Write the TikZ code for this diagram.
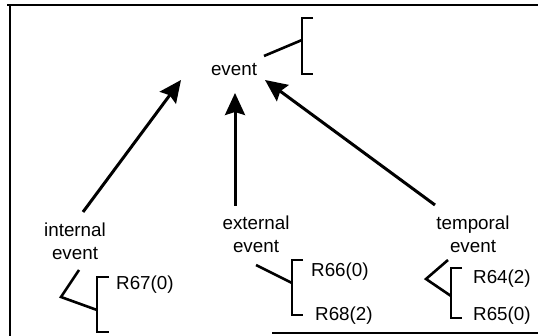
\documentclass[tikz,border=0pt]{standalone}
\usepackage{fontspec}
\setmainfont{Liberation Sans}
\usetikzlibrary{arrows.meta}
\tikzset{
  lbl/.style={inner sep=0pt, font=\fontsize{18.8}{23}\selectfont, align=center},
  rlbl/.style={inner sep=0pt, font=\fontsize{18.8}{23}\selectfont, anchor=base west},
  isa/.style={line width=3pt, -{Stealth[length=22pt, width=20pt, inset=3pt]}},
  conn/.style={line width=2.6pt},
  brk/.style={line width=2pt},
  frame/.style={line width=2pt}
}
\begin{document}
\begin{tikzpicture}[x=1pt,y=-1pt]
\useasboundingbox (0,0) rectangle (538,336);
% frame
\draw[frame] (7,5) -- (538,5);
\draw[frame] (9.5,5) -- (9.5,336);
\draw[frame] (272,333) -- (538,333);

% nodes
\node[lbl, anchor=base] (ev) at (234,76) {event};
\node[lbl, anchor=base] (ie) at (75,260) {internal\\event};
\node[lbl, anchor=base] (ee) at (256,253) {external\\event};
\node[lbl, anchor=base] (te) at (473,253) {temporal\\event};
\node[rlbl] (r67) at (116,290) {R67(0)};
\node[rlbl] (r66) at (311,277) {R66(0)};
\node[rlbl] (r68) at (315,321) {R68(2)};
\node[rlbl] (r64) at (473,284) {R64(2)};
\node[rlbl] (r65) at (473,321) {R65(0)};

% arrows
\coordinate (ia) at (83,212); \coordinate (it) at (181,80);
\coordinate (ea) at (235,206); \coordinate (et) at (235,93);
\coordinate (ta) at (435,205); \coordinate (tt) at (265,80);
\draw[isa] (ia) -- (it);
\draw[isa] (ea) -- (et);
\draw[isa] (ta) -- (tt);

% event bracket
\coordinate (evs) at (264,56); \coordinate (evj) at (302,40);
\draw[conn] (evs) -- (evj);
\draw[brk] (313,18) -- (302,18) -- (302,74) -- (313,74);

% internal event bracket
\coordinate (is) at (79,270); \coordinate (iv) at (61,297); \coordinate (ij) at (97,310);
\draw[conn] (is) -- (iv) -- (ij);
\draw[brk] (109,277) -- (97,277) -- (97,332) -- (109,332);

% external event bracket
\coordinate (es) at (256,265); \coordinate (ej) at (292,283);
\draw[conn] (es) -- (ej);
\draw[brk] (303,260) -- (292,260) -- (292,315) -- (303,315);

% temporal event bracket
\coordinate (ts) at (448,260); \coordinate (tv) at (426,279); \coordinate (tj) at (451,296);
\draw[conn] (ts) -- (tv) -- (tj);
\draw[brk] (462,268) -- (451,268) -- (451,318) -- (462,318);
\end{tikzpicture}
\end{document}
